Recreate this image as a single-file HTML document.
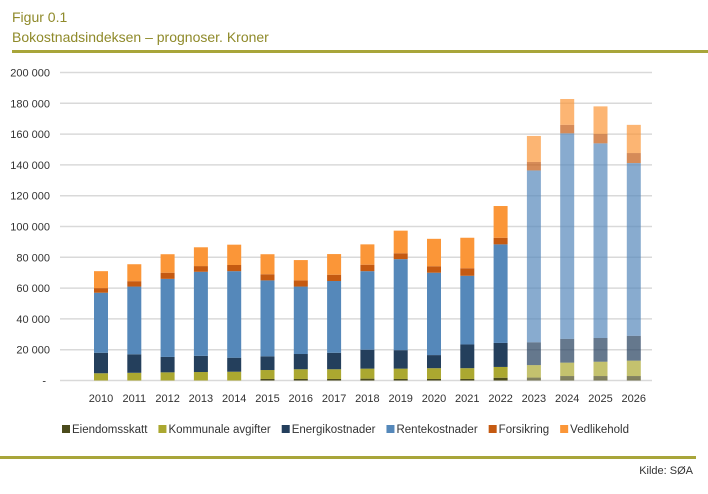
<!DOCTYPE html>
<html><head><meta charset="utf-8"><style>
body{margin:0;background:#fff;font-family:"Liberation Sans",sans-serif;}
svg text{font-family:"Liberation Sans",sans-serif;}
</style></head><body>
<svg id="c" width="708" height="489" xmlns="http://www.w3.org/2000/svg">
<text x="12" y="22" font-size="14" fill="#8f8a2a">Figur 0.1</text>
<text x="12" y="42" font-size="14" fill="#8f8a2a">Bokostnadsindeksen – prognoser. Kroner</text>
<rect x="12" y="50" width="696" height="3" fill="#a8a53a"/>
<rect x="0" y="456" width="696" height="3" fill="#a8a53a"/>
<text x="693" y="474" font-size="11" text-anchor="end" fill="#333">Kilde: SØA</text>
<g id="grid"></g><g id="bars"></g><g id="xl"></g><g id="leg"></g>
</svg>
<script>
const years=["2010","2011","2012","2013","2014","2015","2016","2017","2018","2019","2020","2021","2022","2023","2024","2025","2026"];
const eiendomsskatt=[0,0,0,0,0,1,1,1,1.2,1,1,1,1.8,1.9,2.9,2.9,2.9];
const kommunale=[4.7,5,5.3,5.5,5.7,5.8,6.3,6.3,6.5,6.7,7,7,7,8.1,8.7,9.3,10];
const energi=[13.3,12,10,10.5,9.1,8.9,9.9,10.7,12.3,12,8.5,15.4,15.6,14.8,15.4,15.4,16.1];
const rente=[39,44,50.7,54.6,56.2,49.3,43.8,46.6,51,59.1,53.5,44.6,64,111.6,133.5,126.4,112.2];
const forsikring=[3,3.5,4,3.7,4,4,4,4.1,4.2,3.8,4.2,4.9,4.3,5.5,5.5,6,6.5];
const vedlikehold=[11,11,12,12.2,13.2,13,13.2,13.4,13.2,14.7,17.8,19.8,20.6,16.9,16.8,18,18.3];
const yTicks=[0,20,40,60,80,100,120,140,160,180,200];
const seriesNames=["Eiendomsskatt","Kommunale avgifter","Energikostnader","Rentekostnader","Forsikring","Vedlikehold"];
const colors=["#4b4b1c","#aba830","#243f5c","#5588ba","#c55a11","#fb9638"];
const forecastFrom=13;
const NS="http://www.w3.org/2000/svg";
const y0=380.5,yScale=1.54;
const Y=v=>y0-v*yScale;
const X=i=>101+i*33.3;
function mk(t,a,p){const e=document.createElementNS(NS,t);for(const k in a)e.setAttribute(k,a[k]);p.appendChild(e);return e;}
const grid=document.getElementById('grid');
yTicks.forEach(t=>{
  const l=mk('line',{x1:60,x2:652,y1:Y(t),y2:Y(t),stroke:"#d9d9d9","stroke-width":1.5},grid);
  
  
  const tx=mk('text',{x:t===0?46:50,y:Y(t)+4,"font-size":11,"text-anchor":"end",fill:"#333"},grid);
  tx.textContent=t===0?"-":(t+" 000");
  
  
});
const all=[eiendomsskatt,kommunale,energi,rente,forsikring,vedlikehold];
const bars=document.getElementById('bars');
years.forEach((yr,i)=>{
  let acc=0;
  all.forEach((s,k)=>{
    const v=s[i];
    if(v>0){
      const r=mk('rect',{x:X(i)-7,y:Y(acc+v),width:14,height:v*yScale,fill:colors[k],opacity:i>=forecastFrom?0.7:1},bars);
      
      
    }
    acc+=v;
  });
  const t=mk('text',{x:X(i),y:402,"font-size":11,"text-anchor":"middle",fill:"#333"},document.getElementById('xl'));
  t.textContent=yr;
  
  
});
const leg=document.getElementById('leg');
let cx=62;
seriesNames.forEach((n,k)=>{
  const r=mk('rect',{x:cx,y:425,width:8,height:8,fill:colors[k]},leg);
  
  
  const t=mk('text',{x:cx+10,y:433,"font-size":11.5,fill:"#333"},leg);
  t.textContent=n;
  
  
  cx+=10+t.getComputedTextLength()+11;
});
</script>
</body></html>
